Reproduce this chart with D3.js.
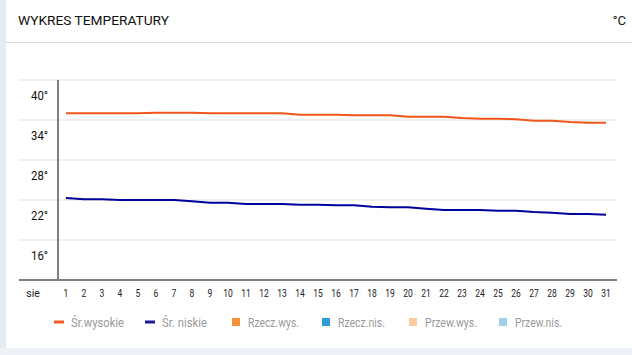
<!DOCTYPE html>
<html><head><meta charset="utf-8">
<script src="https://cdn.jsdelivr.net/npm/d3@7"></script>
<style>body{margin:0;background:#fff}svg{display:block}text{font-family:Roboto,"Liberation Sans",sans-serif}</style>
</head><body><svg id="c" width="632" height="355"></svg>
<script>
const days = d3.range(1, 32);
const avgHigh = [35.0,35.0,35.0,35.0,35.0,35.1,35.1,35.1,35.0,35.0,35.0,35.0,35.0,34.8,34.8,34.8,34.7,34.7,34.7,34.5,34.5,34.5,34.3,34.2,34.2,34.1,33.9,33.9,33.7,33.6,33.6];
const avgLow = [22.3,22.1,22.1,22.0,22.0,22.0,22.0,21.8,21.6,21.6,21.4,21.4,21.4,21.3,21.3,21.2,21.2,21.0,20.9,20.9,20.7,20.5,20.5,20.5,20.4,20.4,20.2,20.1,19.9,19.9,19.8];
const yTicks = [40, 34, 28, 22, 16];
const monthLabel = "sie";
const title = "WYKRES TEMPERATURY";
const unit = "°C";
const legendItems = [
  {name:"Śr.wysokie", color:"#f05a28", type:"line", w:53},
  {name:"Śr. niskie", color:"#1a1a9c", type:"line", w:45},
  {name:"Rzecz.wys.", color:"#f7923a", type:"rect", w:51},
  {name:"Rzecz.nis.", color:"#2f9bd7", type:"rect", w:47},
  {name:"Przew.wys.", color:"#fdcc9e", type:"rect", w:52},
  {name:"Przew.nis.", color:"#9dd2ef", type:"rect", w:47}
];
const legendX = [59, 150, 236, 326, 413, 503];

const svg = d3.select("#c");
svg.append("rect").attr("x",0).attr("y",0).attr("width",6).attr("height",355).attr("fill","#e6ebf2");
svg.append("rect").attr("x",0).attr("y",348).attr("width",632).attr("height",7).attr("fill","#eef1f6");

svg.append("text").attr("x",18).attr("y",25).attr("font-size",13.5).attr("fill","#111")
  .attr("textLength",151).attr("lengthAdjust","spacingAndGlyphs").text(title);
svg.append("text").attr("x",626).attr("y",25).attr("font-size",13).attr("fill","#111")
  .attr("text-anchor","end").text(unit);
svg.append("line").attr("x1",6).attr("x2",632).attr("y1",42.5).attr("y2",42.5).attr("stroke","#dcdcdc").attr("stroke-width",1);

const x = d3.scalePoint().domain(days).range([66, 606]);
const y = d3.scaleLinear().domain([10, 40]).range([280, 80]);

// grid
svg.append("g").selectAll("line").data(yTicks).join("line")
  .attr("x1",19).attr("x2",617).attr("y1",d=>y(d)).attr("y2",d=>y(d))
  .attr("stroke","#f0f0f0").attr("stroke-width",2);
// y labels
svg.append("g").selectAll("text").data(yTicks).join("text")
  .attr("x",48).attr("y",d=>y(d)+19.5).attr("text-anchor","end")
  .attr("font-size",13).attr("fill","#111")
  .attr("textLength",17).attr("lengthAdjust","spacingAndGlyphs")
  .text(d=>d+"°");

// axes lines
svg.append("line").attr("x1",58).attr("x2",58).attr("y1",80).attr("y2",280).attr("stroke","#808080").attr("stroke-width",2);
svg.append("line").attr("x1",19).attr("x2",617).attr("y1",280).attr("y2",280).attr("stroke","#808080").attr("stroke-width",2);

// x labels
svg.append("text").attr("x",33).attr("y",297).attr("text-anchor","middle").attr("font-size",10.5).attr("fill","#222").text(monthLabel);
svg.append("g").selectAll("text").data(days).join("text")
  .attr("x",d=>x(d)).attr("y",297).attr("text-anchor","middle").attr("font-size",10).attr("fill","#222")
  .attr("transform",d=>`translate(${x(d)},0) scale(0.85,1) translate(${-x(d)},0)`)
  .text(d=>d);

const line = d3.line().x((d,i)=>x(days[i])).y(d=>y(d));
svg.append("path").datum(avgHigh).attr("d",line).attr("fill","none").attr("stroke","#f0561a").attr("stroke-width",2);
svg.append("path").datum(avgLow).attr("d",line).attr("fill","none").attr("stroke","#00009a").attr("stroke-width",2);

// legend
const lg = svg.append("g").selectAll("g").data(legendItems).join("g")
  .attr("transform",(d,i)=>`translate(${legendX[i]},322)`);
lg.each(function(d){
  const g = d3.select(this);
  if(d.type==="line") g.append("rect").attr("x",-5).attr("y",-1.5).attr("width",10).attr("height",3).attr("fill",d.color);
  else g.append("rect").attr("x",-4).attr("y",-4).attr("width",8).attr("height",8).attr("fill",d.color);
  g.append("text").attr("x",d.type==="line"?12:12).attr("y",4.5).attr("font-size",12).attr("fill","#999")
    .attr("textLength",d.w).attr("lengthAdjust","spacingAndGlyphs").text(d.name);
});
</script></body></html>
